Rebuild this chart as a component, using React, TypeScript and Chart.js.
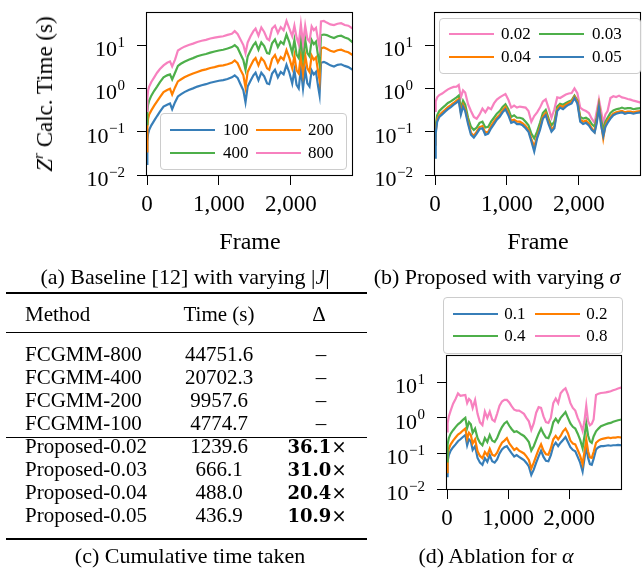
import React, { useEffect, useRef } from 'react';
import { Chart, registerables } from 'chart.js';

Chart.register(...registerables);

const SERIF = '"Liberation Serif", "Times New Roman", serif';
const BLUE = '#377eb8';
const ORANGE = '#ff7f00';
const GREEN = '#4daf4a';
const PINK = '#f781bf';

// ---- shared axis data ----
const xTickValues = [0, 1000, 2000];
const xTickLabels = ['0', '1,000', '2,000'];
const yTickValues = [0.01, 0.1, 1, 10];
const yTickExponents = ['\u22122', '\u22121', '0', '1'];
const X_MAX = 2865;
const Y_MIN = 0.01;
const Y_MAX = 55;

// ---- (a) Baseline with varying |J| ----
const framesA = [0, 5, 15, 30, 60, 100, 140, 180, 230, 280, 320, 350, 390, 430, 470, 520, 580, 640, 700, 760, 820, 880, 940, 1000, 1060, 1120, 1180, 1220, 1260, 1300, 1340, 1370, 1400, 1440, 1480, 1510, 1550, 1590, 1630, 1670, 1700, 1740, 1780, 1820, 1860, 1900, 1940, 1980, 2020, 2050, 2080, 2110, 2140, 2170, 2200, 2230, 2260, 2290, 2320, 2350, 2380, 2400, 2420, 2460, 2500, 2550, 2600, 2650, 2700, 2750, 2800, 2860];
const labelsA = ['100', '200', '400', '800'];
const baseline100 = [0.018, 0.06, 0.09, 0.11, 0.14, 0.18, 0.23, 0.29, 0.38, 0.42, 0.45, 0.33, 0.48, 0.65, 0.73, 0.82, 0.92, 1.0, 1.1, 1.18, 1.25, 1.35, 1.42, 1.5, 1.55, 1.65, 1.8, 2.0, 1.75, 1.25, 0.9, 0.48, 1.1, 1.5, 2.0, 2.3, 1.55, 2.3, 1.9, 1.3, 1.25, 2.2, 2.7, 1.8, 2.4, 2.1, 3.5, 2.3, 1.3, 2.6, 1.2, 1.0, 2.8, 1.0, 2.7, 1.3, 1.1, 2.6, 2.1, 2.4, 1.1, 0.7, 3.9, 4.1, 3.8, 3.4, 3.2, 3.5, 3.6, 3.3, 3.1, 2.7];
const baseline200 = [0.035, 0.13, 0.2, 0.25, 0.31, 0.4, 0.5, 0.63, 0.82, 0.92, 0.98, 0.72, 1.05, 1.45, 1.6, 1.8, 2.0, 2.2, 2.4, 2.6, 2.75, 2.95, 3.1, 3.3, 3.4, 3.6, 3.9, 4.4, 3.8, 2.7, 2.0, 1.05, 2.4, 3.3, 4.4, 5.0, 3.4, 5.0, 4.2, 2.9, 2.7, 4.8, 5.9, 4.0, 5.3, 4.6, 7.6, 5.0, 2.9, 5.7, 2.6, 2.2, 6.1, 2.2, 5.9, 2.9, 2.4, 5.7, 4.6, 5.2, 2.4, 1.55, 8.4, 8.8, 8.2, 7.4, 7.0, 7.6, 7.8, 7.2, 6.8, 5.9];
const baseline400 = [0.15, 0.3, 0.42, 0.52, 0.68, 0.88, 1.1, 1.4, 1.8, 2.0, 2.1, 1.6, 2.3, 3.3, 3.7, 4.1, 4.6, 5.0, 5.5, 5.9, 6.2, 6.7, 7.1, 7.5, 7.8, 8.3, 9.0, 10.0, 8.7, 6.2, 4.5, 2.7, 5.4, 7.5, 10.0, 11.5, 7.8, 11.5, 9.5, 6.5, 6.3, 11.0, 13.5, 9.0, 12.0, 10.5, 17.5, 11.5, 6.5, 13.0, 6.0, 5.0, 14.0, 5.0, 13.5, 6.5, 5.5, 13.0, 10.5, 12.0, 5.5, 3.6, 17.0, 17.5, 17.0, 15.5, 14.5, 16.0, 16.5, 15.0, 14.0, 11.5];
const baseline800 = [0.3, 0.6, 0.9, 1.1, 1.4, 1.8, 2.3, 2.8, 3.4, 3.9, 4.2, 3.2, 4.6, 7.5, 8.3, 9.2, 10.0, 10.8, 11.8, 12.6, 13.2, 14.2, 14.8, 15.4, 16.0, 17.2, 18.2, 21.0, 18.0, 13.5, 10.0, 6.5, 11.5, 16.0, 21.0, 24.0, 16.5, 25.5, 20.0, 14.0, 13.0, 24.0, 28.0, 19.0, 26.0, 22.0, 36.0, 24.0, 16.0, 28.0, 15.0, 10.5, 30.0, 11.0, 28.0, 14.0, 12.0, 27.0, 22.0, 25.0, 13.0, 8.5, 35.0, 36.0, 33.0, 30.0, 29.0, 31.0, 32.0, 29.0, 28.0, 24.0];

// ---- (b) Proposed with varying sigma, (d) Ablation for alpha ----
const framesProposed = [0, 10, 30, 60, 100, 140, 180, 220, 260, 300, 330, 360, 390, 420, 460, 500, 540, 580, 620, 660, 700, 740, 780, 820, 860, 900, 940, 980, 1020, 1060, 1100, 1140, 1180, 1220, 1260, 1300, 1340, 1380, 1420, 1460, 1500, 1540, 1580, 1620, 1660, 1700, 1740, 1780, 1820, 1860, 1900, 1940, 1980, 2020, 2060, 2100, 2140, 2180, 2220, 2250, 2280, 2310, 2340, 2370, 2400, 2440, 2480, 2520, 2560, 2600, 2640, 2680, 2720, 2760, 2800, 2860];
const labelsB = ['0.02', '0.03', '0.04', '0.05'];
const sigma002 = [0.3, 0.5, 0.62, 0.7, 0.76, 0.85, 0.95, 1.02, 1.08, 1.1, 1.2, 0.62, 0.9, 0.8, 0.43, 0.3, 0.22, 0.2, 0.25, 0.34, 0.28, 0.36, 0.33, 0.45, 0.55, 0.62, 0.68, 0.74, 0.55, 0.36, 0.4, 0.36, 0.38, 0.37, 0.36, 0.3, 0.17, 0.23, 0.28, 0.36, 0.5, 0.56, 0.35, 0.21, 0.33, 0.62, 0.6, 0.66, 0.72, 0.76, 0.78, 1.0, 0.78, 0.36, 0.32, 0.3, 0.27, 0.2, 0.16, 0.3, 0.55, 0.3, 0.16, 0.25, 0.3, 0.6, 0.66, 0.63, 0.68, 0.62, 0.6, 0.57, 0.55, 0.52, 0.5, 0.47];
const sigma003 = [0.08, 0.14, 0.24, 0.3, 0.35, 0.4, 0.46, 0.5, 0.56, 0.62, 0.68, 0.35, 0.52, 0.42, 0.21, 0.13, 0.11, 0.125, 0.16, 0.17, 0.125, 0.13, 0.17, 0.21, 0.26, 0.3, 0.37, 0.43, 0.33, 0.22, 0.24, 0.21, 0.21, 0.2, 0.17, 0.14, 0.09, 0.07, 0.1, 0.16, 0.27, 0.32, 0.2, 0.14, 0.17, 0.38, 0.44, 0.42, 0.46, 0.5, 0.53, 0.68, 0.53, 0.22, 0.2, 0.21, 0.19, 0.15, 0.13, 0.21, 0.42, 0.19, 0.11, 0.17, 0.21, 0.27, 0.31, 0.33, 0.34, 0.36, 0.34, 0.35, 0.35, 0.33, 0.34, 0.35];
const sigma004 = [0.05, 0.1, 0.19, 0.24, 0.28, 0.32, 0.37, 0.41, 0.46, 0.52, 0.57, 0.28, 0.42, 0.33, 0.17, 0.095, 0.08, 0.1, 0.128, 0.135, 0.095, 0.1, 0.135, 0.17, 0.21, 0.245, 0.31, 0.37, 0.27, 0.18, 0.19, 0.17, 0.17, 0.155, 0.135, 0.11, 0.068, 0.045, 0.078, 0.125, 0.22, 0.27, 0.17, 0.11, 0.135, 0.33, 0.4, 0.37, 0.42, 0.46, 0.5, 0.64, 0.5, 0.19, 0.17, 0.18, 0.155, 0.12, 0.1, 0.18, 0.4, 0.155, 0.07, 0.14, 0.18, 0.22, 0.26, 0.28, 0.29, 0.3, 0.28, 0.29, 0.29, 0.28, 0.29, 0.3];
const sigma005 = [0.025, 0.09, 0.17, 0.22, 0.25, 0.29, 0.33, 0.37, 0.42, 0.47, 0.52, 0.25, 0.38, 0.3, 0.15, 0.085, 0.073, 0.09, 0.115, 0.12, 0.085, 0.09, 0.12, 0.15, 0.19, 0.22, 0.28, 0.33, 0.24, 0.16, 0.17, 0.15, 0.15, 0.14, 0.12, 0.1, 0.06, 0.035, 0.07, 0.11, 0.2, 0.24, 0.15, 0.1, 0.12, 0.3, 0.36, 0.33, 0.38, 0.42, 0.45, 0.6, 0.45, 0.17, 0.15, 0.16, 0.14, 0.11, 0.095, 0.16, 0.36, 0.14, 0.08, 0.13, 0.16, 0.2, 0.24, 0.26, 0.27, 0.28, 0.26, 0.27, 0.27, 0.26, 0.27, 0.28];

const labelsD = ['0.1', '0.2', '0.4', '0.8'];
const alpha01 = [0.023, 0.06, 0.09, 0.12, 0.15, 0.18, 0.22, 0.25, 0.29, 0.33, 0.17, 0.25, 0.22, 0.125, 0.16, 0.075, 0.055, 0.048, 0.074, 0.058, 0.09, 0.06, 0.055, 0.068, 0.1, 0.13, 0.15, 0.16, 0.125, 0.1, 0.082, 0.09, 0.08, 0.072, 0.065, 0.054, 0.043, 0.025, 0.035, 0.055, 0.083, 0.12, 0.08, 0.062, 0.06, 0.09, 0.16, 0.2, 0.16, 0.2, 0.24, 0.29, 0.21, 0.15, 0.125, 0.115, 0.08, 0.055, 0.031, 0.07, 0.16, 0.075, 0.05, 0.048, 0.07, 0.13, 0.15, 0.16, 0.16, 0.165, 0.17, 0.165, 0.17, 0.17, 0.175, 0.17];
const alpha02 = [0.03, 0.09, 0.135, 0.18, 0.23, 0.28, 0.34, 0.38, 0.44, 0.5, 0.26, 0.38, 0.33, 0.19, 0.25, 0.115, 0.085, 0.074, 0.11, 0.088, 0.135, 0.092, 0.085, 0.105, 0.15, 0.2, 0.23, 0.27, 0.19, 0.155, 0.125, 0.14, 0.12, 0.11, 0.1, 0.083, 0.066, 0.038, 0.055, 0.085, 0.13, 0.18, 0.12, 0.095, 0.092, 0.14, 0.25, 0.31, 0.25, 0.31, 0.42, 0.5, 0.37, 0.23, 0.19, 0.18, 0.125, 0.085, 0.05, 0.11, 0.25, 0.115, 0.078, 0.075, 0.11, 0.2, 0.23, 0.25, 0.26, 0.27, 0.28, 0.27, 0.28, 0.28, 0.29, 0.28];
const alpha04 = [0.06, 0.18, 0.27, 0.36, 0.45, 0.55, 0.66, 0.75, 0.88, 1.0, 0.52, 0.76, 0.66, 0.38, 0.5, 0.27, 0.2, 0.17, 0.27, 0.21, 0.33, 0.23, 0.21, 0.27, 0.4, 0.55, 0.7, 0.79, 0.6, 0.48, 0.4, 0.42, 0.38, 0.34, 0.31, 0.26, 0.21, 0.12, 0.16, 0.24, 0.36, 0.5, 0.36, 0.28, 0.27, 0.4, 0.75, 0.95, 0.75, 1.0, 1.2, 1.45, 1.0, 0.7, 0.56, 0.5, 0.36, 0.24, 0.14, 0.3, 0.7, 0.32, 0.22, 0.2, 0.3, 0.42, 0.5, 0.58, 0.62, 0.66, 0.7, 0.72, 0.78, 0.82, 0.86, 0.9];
const alpha08 = [0.42, 0.7, 1.1, 1.6, 2.5, 3.4, 4.9, 4.2, 4.3, 4.4, 2.6, 3.4, 3.0, 1.9, 3.2, 1.3, 0.75, 0.63, 1.5, 1.0, 1.5, 0.9, 0.8, 1.3, 2.2, 2.9, 3.2, 3.2, 2.7, 2.1, 1.7, 1.6, 1.6, 1.45, 1.3, 1.0, 0.8, 0.46, 0.7, 1.4, 2.0, 1.9, 1.1, 0.76, 0.72, 1.0, 2.6, 3.5, 2.6, 4.9, 6.0, 6.8, 4.5, 2.6, 1.9, 1.6, 1.0, 0.7, 0.43, 0.8, 2.2, 0.8, 0.62, 0.68, 0.9, 4.4, 4.8, 5.0, 5.1, 5.2, 5.4, 5.6, 6.0, 6.3, 6.7, 7.2];

// ---- (c) table ----
const tableMethods = ['FCGMM-800', 'FCGMM-400', 'FCGMM-200', 'FCGMM-100', 'Proposed-0.02', 'Proposed-0.03', 'Proposed-0.04', 'Proposed-0.05'];
const tableTimes = ['44751.6', '20702.3', '9957.6', '4774.7', '1239.6', '666.1', '488.0', '436.9'];
const tableSpeedups = [null, null, null, null, '36.1', '31.0', '20.4', '10.9'];

const W = 642;
const H = 574;

const framePlugin = {
  id: 'frameBox',
  afterDatasetsDraw(chart: any) {
    const { ctx, chartArea: a } = chart;
    ctx.save();
    ctx.strokeStyle = '#000';
    ctx.lineWidth = 1.1;
    const l = Math.round(a.left) - 0.5;
    const t = Math.round(a.top) - 0.5;
    const r = Math.round(a.right) - 0.5;
    const b = Math.round(a.bottom) + 0.5;
    ctx.strokeRect(l, t, r - l, b - t);
    ctx.restore();
  },
};

const logLabelPlugin = {
  id: 'logLabels',
  afterDraw(chart: any) {
    const ys = chart.scales.y;
    const ctx = chart.ctx;
    const right = chart.chartArea.left - 10 - 12;
    ctx.save();
    ctx.fillStyle = '#000';
    ctx.textAlign = 'right';
    ctx.textBaseline = 'alphabetic';
    yTickValues.forEach((v, i) => {
      const py = ys.getPixelForValue(v);
      const exp = yTickExponents[i];
      ctx.font = `15px ${SERIF}`;
      const ew = ctx.measureText(exp).width;
      ctx.fillText(exp, right, py + 1.5);
      ctx.font = `22px ${SERIF}`;
      ctx.fillText('10', right - ew - 0.5, py + 11);
    });
    ctx.restore();
  },
};

type Area = { left: number; right: number; top: number; bottom: number };

function makeConfig(frames: number[], series: { label: string; color: string; values: number[] }[], area: Area, xTitle: boolean): any {
  const yW = 20;
  const xH = xTitle ? 82 : 40;
  return {
    type: 'line',
    data: {
      datasets: series.map((s, i) => ({
        label: s.label,
        data: frames.map((f, j) => ({ x: f, y: s.values[j] })),
        borderColor: s.color,
        backgroundColor: s.color,
        borderWidth: 2.2,
        pointRadius: 0,
        tension: 0,
        clip: 0,
        order: -i,
      })),
    },
    options: {
      responsive: false,
      animation: false,
      events: [],
      layout: {
        padding: { left: area.left - yW, right: W - area.right, top: area.top, bottom: H - area.bottom - xH },
      },
      plugins: { legend: { display: false }, tooltip: { enabled: false } },
      scales: {
        x: {
          type: 'linear',
          min: 0,
          max: X_MAX,
          afterBuildTicks: (s: any) => {
            s.ticks = xTickValues.map((v) => ({ value: v }));
          },
          afterFit: (s: any) => {
            s.height = xH;
          },
          ticks: {
            autoSkip: false,
            maxRotation: 0,
            padding: 6,
            color: '#000',
            font: { family: SERIF, size: 23 },
            callback: (v: any) => {
              const k = xTickValues.indexOf(Number(v));
              return k >= 0 ? xTickLabels[k] : '';
            },
          },
          grid: { drawOnChartArea: false, drawTicks: true, tickLength: 10, color: '#000', lineWidth: 1 },
          border: { display: false },
          title: { display: xTitle, text: 'Frame', color: '#000', font: { family: SERIF, size: 24 }, padding: 0 },
        },
        y: {
          type: 'logarithmic',
          min: Y_MIN,
          max: Y_MAX,
          afterBuildTicks: (s: any) => {
            s.ticks = yTickValues.map((v) => ({ value: v }));
          },
          afterFit: (s: any) => {
            s.width = yW;
          },
          ticks: { display: false },
          grid: { drawOnChartArea: false, drawTicks: true, tickLength: 10, color: '#000', lineWidth: 1 },
          border: { display: false },
        },
      },
    },
    plugins: [framePlugin, logLabelPlugin],
  };
}

function ChartCanvas({ build }: { build: () => any }) {
  const ref = useRef<HTMLCanvasElement | null>(null);
  useEffect(() => {
    if (!ref.current) return;
    const c = new Chart(ref.current, build());
    return () => c.destroy();
  }, []);
  return (
    <canvas
      ref={ref}
      width={W}
      height={H}
      style={{ position: 'absolute', left: 0, top: 0, width: W, height: H }}
    />
  );
}

type LegendSpec = {
  left: number; top: number; width: number; height: number;
  lineX: number[]; textX: number[]; rowY: number[];
};

function Legend({ spec, labels, colors }: { spec: LegendSpec; labels: string[]; colors: string[] }) {
  return (
    <div
      style={{
        position: 'absolute', left: spec.left, top: spec.top, width: spec.width, height: spec.height,
        border: '1px solid #cccccc', borderRadius: 4, background: 'rgba(255,255,255,0.8)', boxSizing: 'border-box',
      }}
    >
      {labels.map((lab, i) => {
        const c = i % 2;
        const r = Math.floor(i / 2);
        return (
          <React.Fragment key={i}>
            <div style={{ position: 'absolute', left: spec.lineX[c], top: spec.rowY[r] - 1, width: 45, height: 2.2, background: colors[i] }} />
            <div style={{ position: 'absolute', left: spec.textX[c], top: spec.rowY[r] - 10, lineHeight: '20px', fontSize: 17, whiteSpace: 'nowrap' }}>{lab}</div>
          </React.Fragment>
        );
      })}
    </div>
  );
}

function Caption({ cx, baseline, children }: { cx: number; baseline: number; children: any }) {
  return (
    <div
      style={{
        position: 'absolute', left: cx, top: baseline - 20.4, transform: 'translateX(-50%)',
        fontSize: 22, lineHeight: '26px', whiteSpace: 'nowrap',
      }}
    >
      {children}
    </div>
  );
}

function Cell({ x, cy, align, children }: { x: number; cy: number; align: 'left' | 'center'; children: any }) {
  return (
    <div
      style={{
        position: 'absolute', left: x, top: cy - 12, lineHeight: '24px', fontSize: 21, whiteSpace: 'nowrap',
        transform: align === 'center' ? 'translateX(-50%)' : undefined,
      }}
    >
      {children}
    </div>
  );
}

function Rule({ y, h }: { y: number; h: number }) {
  return <div style={{ position: 'absolute', left: 6, top: y, width: 361, height: h, background: '#000' }} />;
}

export default function App() {
  const areaA: Area = { left: 147, right: 353, top: 13, bottom: 175 };
  const areaB: Area = { left: 435, right: 641, top: 13, bottom: 175 };
  const areaD: Area = { left: 447, right: 622, top: 356, bottom: 489 };

  const buildA = () =>
    makeConfig(framesA, [
      { label: labelsA[0], color: BLUE, values: baseline100 },
      { label: labelsA[1], color: ORANGE, values: baseline200 },
      { label: labelsA[2], color: GREEN, values: baseline400 },
      { label: labelsA[3], color: PINK, values: baseline800 },
    ], areaA, true);
  const buildB = () =>
    makeConfig(framesProposed, [
      { label: labelsB[0], color: PINK, values: sigma002 },
      { label: labelsB[1], color: GREEN, values: sigma003 },
      { label: labelsB[2], color: ORANGE, values: sigma004 },
      { label: labelsB[3], color: BLUE, values: sigma005 },
    ], areaB, true);
  const buildD = () =>
    makeConfig(framesProposed, [
      { label: labelsD[0], color: BLUE, values: alpha01 },
      { label: labelsD[1], color: ORANGE, values: alpha02 },
      { label: labelsD[2], color: GREEN, values: alpha04 },
      { label: labelsD[3], color: PINK, values: alpha08 },
    ], areaD, false);

  return (
    <div style={{ position: 'absolute', left: 0, top: 0, width: W, height: H, background: '#fff', fontFamily: SERIF, color: '#000', overflow: 'hidden' }}>
      <ChartCanvas build={buildA} />
      <ChartCanvas build={buildB} />
      <ChartCanvas build={buildD} />

      {/* y-axis title of (a) */}
      <div
        style={{
          position: 'absolute', left: 46, top: 94, transform: 'translate(-50%, -50%) rotate(-90deg)',
          fontSize: 23, lineHeight: '28px', whiteSpace: 'nowrap',
        }}
      >
        <i>Z</i>
        <span style={{ fontSize: 15, position: 'relative', top: -9, fontStyle: 'italic' }}>r</span> Calc. Time (s)
      </div>

      <Legend
        spec={{ left: 160, top: 113, width: 187, height: 57, lineX: [9, 95], textX: [62, 147], rowY: [15.5, 38.5] }}
        labels={labelsA}
        colors={[BLUE, ORANGE, GREEN, PINK]}
      />
      <Legend
        spec={{ left: 439, top: 18, width: 202, height: 56, lineX: [8.5, 99], textX: [61, 152], rowY: [15, 38] }}
        labels={labelsB}
        colors={[PINK, GREEN, ORANGE, BLUE]}
      />
      <Legend
        spec={{ left: 443, top: 297, width: 180, height: 56.5, lineX: [9, 91.3], textX: [60.3, 142.3], rowY: [15.5, 38.3] }}
        labels={labelsD}
        colors={[BLUE, ORANGE, GREEN, PINK]}
      />

      <Caption cx={185} baseline={284}>
        (a) Baseline [12] with varying |<i>J</i>|
      </Caption>
      <Caption cx={497} baseline={284}>
        (b) Proposed with varying <i>σ</i>
      </Caption>

      {/* (c) table */}
      <Rule y={292} h={2} />
      <Cell x={25} cy={314} align="left">Method</Cell>
      <Cell x={219} cy={314} align="center">Time (s)</Cell>
      <Cell x={319} cy={314} align="center">Δ</Cell>
      <Rule y={332} h={1} />
      {tableMethods.map((m, i) => {
        const cy = 354 + 23 * i;
        const sp = tableSpeedups[i];
        return (
          <React.Fragment key={m}>
            <Cell x={25} cy={cy} align="left">{m}</Cell>
            <Cell x={219} cy={cy} align="center">{tableTimes[i]}</Cell>
            {sp ? (
              <Cell x={317} cy={cy} align="center">
                <span style={{ fontFamily: '"DejaVu Serif", serif', fontWeight: 'bold', fontSize: 18 }}>{sp}</span>
                <span style={{ fontFamily: '"DejaVu Serif", serif', fontSize: 18 }}>×</span>
              </Cell>
            ) : (
              <Cell x={321} cy={cy} align="center">–</Cell>
            )}
          </React.Fragment>
        );
      })}
      <Rule y={437} h={1} />
      <Rule y={538} h={2} />

      <Caption cx={190} baseline={563}>
        (c) Cumulative time taken
      </Caption>
      <Caption cx={496} baseline={563}>
        (d) Ablation for <i>α</i>
      </Caption>
    </div>
  );
}
